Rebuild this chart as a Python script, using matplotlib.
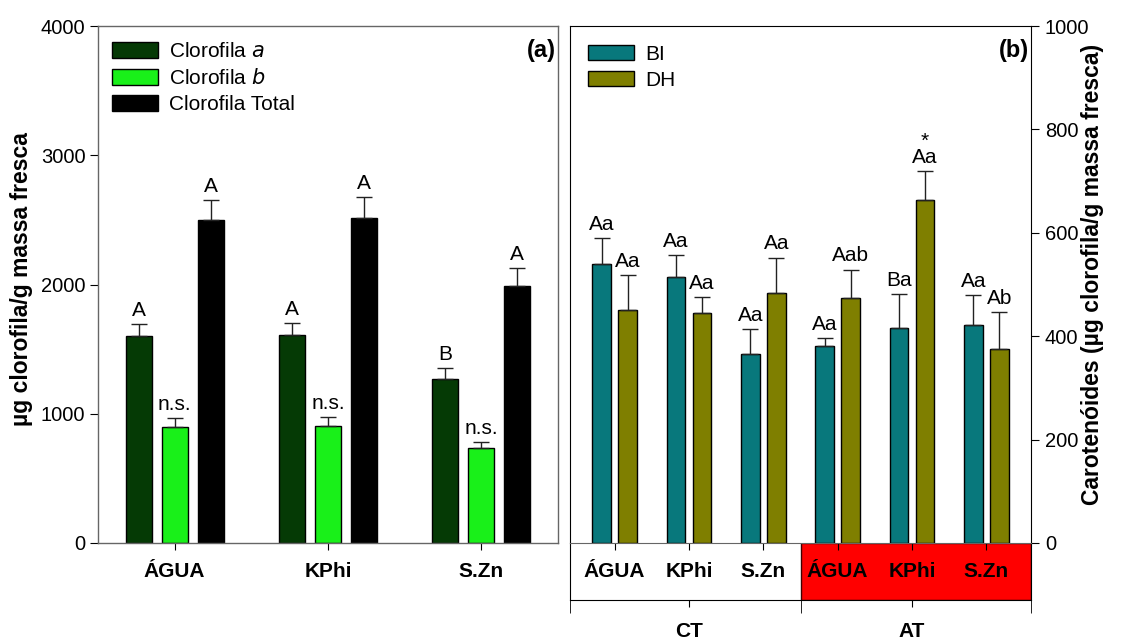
import numpy as np
import matplotlib
matplotlib.use("Agg")
import matplotlib.pyplot as plt
from matplotlib.patches import Rectangle, Patch

plt.rcParams['font.family'] = ['Liberation Sans', 'DejaVu Sans']

# Panel (a): chlorophyll per treatment
trat_a = ['ÁGUA', 'KPhi', 'S.Zn']
clor_a = [1604, 1612, 1266]
clor_a_err = [90, 92, 86]
clor_b = [897, 905, 733]
clor_b_err = [68, 70, 51]
clor_tot = [2499, 2512, 1988]
clor_tot_err = [152, 163, 142]
letras_a = ['A', 'A', 'B']
letras_b = ['n.s.', 'n.s.', 'n.s.']
letras_tot = ['A', 'A', 'A']

# Panel (b): carotenoids, CT and AT conditions
trat_b = ['ÁGUA', 'KPhi', 'S.Zn', 'ÁGUA', 'KPhi', 'S.Zn']
grupos = ['CT', 'AT']
car_bi = [539, 515, 366, 382, 416, 421]
car_bi_err = [51, 42, 47, 15, 65, 58]
car_dh = [450, 445, 483, 474, 663, 376]
car_dh_err = [68, 31, 69, 55, 57, 70]
letras_bi = ['Aa', 'Aa', 'Aa', 'Aa', 'Ba', 'Aa']
letras_dh = ['Aa', 'Aa', 'Aa', 'Aab', '*\nAa', 'Ab']

W, H = 1127, 640
fig = plt.figure(figsize=(W / 100, H / 100), dpi=100)

tick_font = 14.5
cat_font = 15
lab_font = 16.5


def px_axes(x0, y0, x1, y1):
    # axes from pixel box (top-left origin)
    return fig.add_axes([x0 / W, 1 - y1 / H, (x1 - x0) / W, (y1 - y0) / H])


def barras(ax, x, vals, errs, labels, color, width):
    ax.bar(x, vals, width, color=color, edgecolor='black', linewidth=1, zorder=2)
    ax.errorbar(x, vals, yerr=[np.zeros(len(vals)), errs], fmt='none',
                ecolor='#222222', elinewidth=1, capsize=5.5, capthick=1, zorder=3)
    for xi, v, e, lab in zip(x, vals, errs, labels):
        ax.annotate(lab, (xi, v + e), xytext=(0, 3), textcoords='offset points',
                    ha='center', va='bottom', fontsize=15, linespacing=0.8)


leg_kw = dict(loc='upper left', frameon=False, fontsize=15,
              handlelength=2.2, handleheight=0.78, handletextpad=0.53,
              labelspacing=0.33, borderaxespad=0.0)

# ---------------- panel (a)
ax_a = px_axes(98, 26, 558, 543)
xa = np.arange(len(trat_a))
off, bw = 0.235, 0.17
barras(ax_a, xa - off, clor_a, clor_a_err, letras_a, '#053a05', bw)
barras(ax_a, xa, clor_b, clor_b_err, letras_b, '#19f019', bw)
barras(ax_a, xa + off, clor_tot, clor_tot_err, letras_tot, '#000000', bw)

ax_a.set_xlim(-0.5, 2.5)
ax_a.set_ylim(0, 4000)
ax_a.set_yticks([0, 1000, 2000, 3000, 4000])
ax_a.set_xticks(xa)
ax_a.set_xticklabels(trat_a, fontweight='bold', fontsize=cat_font)
ax_a.tick_params(axis='y', direction='out', length=6, labelsize=tick_font, pad=3)
ax_a.tick_params(axis='x', direction='out', length=5, pad=9)
for s in ax_a.spines.values():
    s.set_color('#666666')
    s.set_linewidth(1)
ax_a.text(0.995, 0.975, '(a)', transform=ax_a.transAxes, ha='right', va='top',
          fontsize=17, fontweight='bold')

ax_a.legend(
    handles=[Patch(facecolor='#053a05', edgecolor='black', label='Clorofila $\\mathit{a}$'),
             Patch(facecolor='#19f019', edgecolor='black', label='Clorofila $\\mathit{b}$'),
             Patch(facecolor='#000000', edgecolor='black', label='Clorofila Total')],
    bbox_to_anchor=(0.012, 0.985), **leg_kw)

fig.text(22 / W, 1 - 279 / H, 'µg clorofila/g massa fresca', rotation=90,
         ha='center', va='center', fontsize=lab_font, fontweight='bold')

# ---------------- panel (b)
ax_b = px_axes(570, 26, 1031, 543)
xb = np.arange(len(trat_b))
off_b, bw_b = 0.175, 0.25
barras(ax_b, xb - off_b, car_bi, car_bi_err, letras_bi, '#08787c', bw_b)
barras(ax_b, xb + off_b, car_dh, car_dh_err, letras_dh, '#7f7f00', bw_b)

ax_b.set_xlim(-0.6, 5.6)
ax_b.set_ylim(0, 1000)
ax_b.yaxis.tick_right()
ax_b.set_yticks([0, 200, 400, 600, 800, 1000])
ax_b.tick_params(axis='y', direction='out', length=6, labelsize=tick_font, pad=4)
ax_b.set_xticks(xb)
ax_b.set_xticklabels(trat_b, fontweight='bold', fontsize=cat_font)
ax_b.tick_params(axis='x', direction='out', length=5, pad=9)
ax_b.spines['bottom'].set_color('#666666')
for s in ['left', 'right', 'top']:
    ax_b.spines[s].set_color('black')
ax_b.text(0.995, 0.975, '(b)', transform=ax_b.transAxes, ha='right', va='top',
          fontsize=17, fontweight='bold')
ax_b.legend(
    handles=[Patch(facecolor='#08787c', edgecolor='black', label='BI'),
             Patch(facecolor='#7f7f00', edgecolor='black', label='DH')],
    bbox_to_anchor=(0.021, 0.98), **leg_kw)

fig.text(1093 / W, 1 - 274 / H, 'Carotenóides (µg clorofila/g massa fresca)',
         rotation=90, ha='center', va='center', fontsize=lab_font, fontweight='bold')

# group strip under panel (b): CT / AT
ax_g = px_axes(570, 543, 1031, 600)
ax_g.set_zorder(0)
ax_b.set_zorder(1)
ax_g.set_xlim(-0.6, 5.6)
ax_g.set_ylim(0, 1)
ax_g.add_patch(Rectangle((2.5, 0), 5.6 - 2.5, 1, facecolor='#ff0000',
                         edgecolor='#400000', linewidth=1, zorder=0))
ax_g.spines['top'].set_visible(False)
ax_g.set_yticks([])
ax_g.set_xticks([1, 4])
ax_g.set_xticklabels(grupos, fontweight='bold', fontsize=cat_font)
ax_g.set_xticks([-0.6, 2.5, 5.6], minor=True)
ax_g.tick_params(axis='x', which='major', direction='out', length=5, pad=11)
ax_g.tick_params(axis='x', which='minor', direction='out', length=9)

fig.savefig('out.png', dpi=100)
